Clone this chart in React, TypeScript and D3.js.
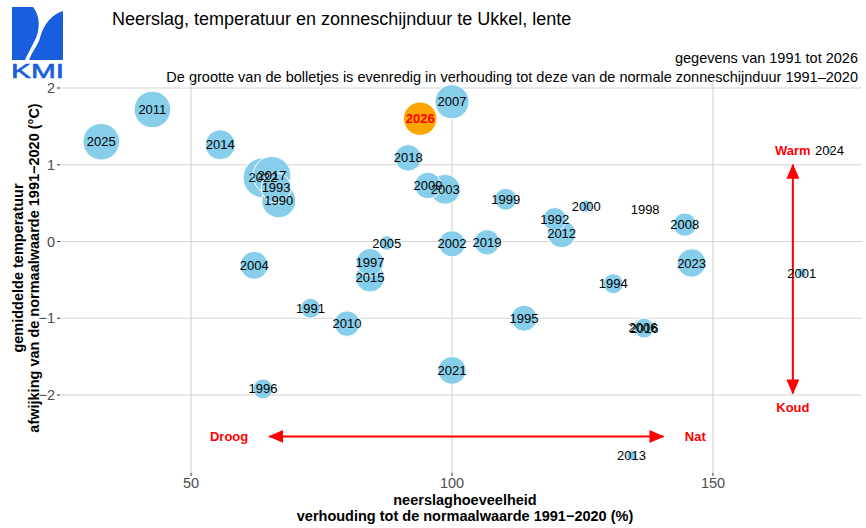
import React from "react";
import * as d3 from "d3";

const years = [1990, 1991, 1992, 1993, 1994, 1995, 1996, 1997, 1998, 1999, 2000, 2001, 2002, 2003, 2004, 2005, 2006, 2007, 2008, 2009, 2010, 2011, 2012, 2013, 2014, 2015, 2016, 2017, 2018, 2019, 2021, 2022, 2023, 2024, 2025];
const precip = [66.8, 72.9, 119.7, 66.3, 130.9, 113.8, 63.8, 84.3, 137.0, 110.3, 125.7, 167.0, 100.0, 98.7, 62.1, 87.5, 136.6, 100.0, 144.6, 95.4, 79.9, 42.6, 121.0, 134.4, 55.6, 84.3, 136.8, 65.5, 91.6, 106.7, 100.0, 63.8, 145.9, 172.3, 32.8];
const temp = [0.53, -0.87, 0.29, 0.70, -0.55, -1.0, -1.92, -0.27, 0.42, 0.55, 0.46, -0.41, -0.03, 0.68, -0.31, -0.02, -1.12, 1.82, 0.22, 0.73, -1.07, 1.72, 0.10, -2.79, 1.26, -0.47, -1.13, 0.86, 1.09, -0.01, -1.68, 0.83, -0.28, 1.18, 1.30];
const sunshine = [113.3, 84.9, 90.4, 103.7, 84.9, 95.3, 84.9, 98.1, 70.0, 88.0, 75.3, 73.6, 96.0, 103.7, 99.3, 77.9, 84.9, 113.3, 90.4, 96.4, 94.5, 120.2, 99.3, 73.6, 103.7, 101.5, 84.9, 124.1, 96.4, 94.1, 99.3, 130.0, 100.6, 71.2, 120.2];

const currentYear = [2026];
const currentPrecip = [93.9];
const currentTemp = [1.6];
const currentSunshine = [111.8];

const xTicks = [50, 100, 150];
const yTicks = [-2, -1, 0, 1, 2];

const arrowH = { x0: 65, x1: 140.5, y: -2.54 };
const arrowV = { x: 165.3, y0: 1.0, y1: -1.98 };

const FONT = '"Liberation Sans", Arial, Helvetica, sans-serif';

export default function App() {
  const W = 866, H = 528;
  const panel = { left: 60, right: 862, top: 80, bottom: 473 };
  const x = d3.scaleLinear().domain([50, 150]).range([191, 713]);
  const y = d3.scaleLinear().domain([-2, 2]).range([395, 88]);
  const allSun = sunshine.concat(currentSunshine);
  const area = d3.scaleLinear().domain([d3.min(allSun)!, d3.max(allSun)!]).range([0.25, 400]);
  const r = (s: number) => Math.sqrt(area(s));

  const pts = years.map((yr, i) => ({ yr, px: precip[i], t: temp[i], s: sunshine[i] }));
  const drawOrder = pts.slice().sort((a, b) => b.s - a.s);
  const cur = currentYear.map((yr, i) => ({ yr, px: currentPrecip[i], t: currentTemp[i], s: currentSunshine[i] }));

  const grid = "#d4d4d4";
  const red = "#ff0000";
  const pcx = (panel.left + panel.right) / 2 + 4;

  return (
    <svg width={W} height={H} style={{ position: "absolute", left: 0, top: 0, background: "#fff" }} fontFamily={FONT}>
      <defs>
        <marker id="ah" markerUnits="userSpaceOnUse" markerWidth="16" markerHeight="14" refX="14" refY="6.5" orient="auto-start-reverse">
          <path d="M0,0 L15,6.5 L0,13 Z" fill={red} />
        </marker>
      </defs>
      <rect width={W} height={H} fill="#fff" />

      {/* logo */}
      <g fill="#1a5ee0">
        <path d="M12,7 L33,7 C40,15 41,30 34,42 C30,50 27,55 25,60 L12,60 Z" />
        <path d="M63,11 L63,60 L29,60 C33,50 38,45 40,38 C43,25 52,14 63,11 Z" />
        <text x={11} y={78} fontSize={21} textLength={53} lengthAdjust="spacingAndGlyphs" stroke="#1a5ee0" strokeWidth={0.6} fontFamily={FONT}>KMI</text>
      </g>

      {/* titles */}
      <text x={112} y={25} fontSize={18} fill="#000">Neerslag, temperatuur en zonneschijnduur te Ukkel, lente</text>
      <text x={858} y={63} fontSize={14.5} textAnchor="end" fill="#000">gegevens van 1991 tot 2026</text>
      <text x={858} y={82} fontSize={14.5} textAnchor="end" fill="#000">De grootte van de bolletjes is evenredig in verhouding tot deze van de normale zonneschijnduur 1991–2020</text>

      {/* grid */}
      {xTicks.map((t) => (
        <line key={"gx" + t} x1={x(t)} x2={x(t)} y1={panel.top} y2={panel.bottom} stroke={grid} strokeWidth={1.2} />
      ))}
      {yTicks.map((t) => (
        <line key={"gy" + t} x1={panel.left} x2={panel.right} y1={y(t)} y2={y(t)} stroke={grid} strokeWidth={1.2} />
      ))}

      {/* ticks */}
      {yTicks.map((t) => (
        <g key={"ty" + t}>
          <line x1={panel.left - 3} x2={panel.left} y1={y(t)} y2={y(t)} stroke="#333" strokeWidth={1} />
          <text x={panel.left - 5} y={y(t)} dy="0.35em" fontSize={14.5} textAnchor="end" fill="#4d4d4d">{t < 0 ? "−" + Math.abs(t) : String(t)}</text>
        </g>
      ))}
      {xTicks.map((t) => (
        <g key={"tx" + t}>
          <line x1={x(t)} x2={x(t)} y1={panel.bottom} y2={panel.bottom + 3} stroke="#333" strokeWidth={1} />
          <text x={x(t)} y={488} fontSize={14.5} textAnchor="middle" fill="#4d4d4d">{t}</text>
        </g>
      ))}

      {/* axis titles */}
      <text x={pcx} y={505} fontSize={14.5} fontWeight="bold" textAnchor="middle">neerslaghoeveelheid</text>
      <text x={pcx} y={521} fontSize={14.5} fontWeight="bold" textAnchor="middle">verhouding tot de normaalwaarde 1991−2020 (%)</text>
      <text transform="translate(23,268) rotate(-90)" fontSize={14.5} fontWeight="bold" textAnchor="middle">gemiddelde temperatuur</text>
      <text transform="translate(39,268) rotate(-90)" fontSize={14.5} fontWeight="bold" textAnchor="middle">afwijking van de normaalwaarde 1991−2020 (°C)</text>

      {/* bubbles */}
      {drawOrder.map((d) => (
        <circle key={"c" + d.yr} cx={x(d.px)} cy={y(d.t)} r={r(d.s)} fill="#87ceeb" stroke="#fff" strokeWidth={1} />
      ))}
      {cur.map((d) => (
        <circle key={"cc" + d.yr} cx={x(d.px)} cy={y(d.t)} r={r(d.s)} fill="#ffa500" stroke="#fff" strokeWidth={1} />
      ))}

      {/* arrows */}
      <line x1={x(arrowH.x0)} x2={x(arrowH.x1)} y1={y(arrowH.y)} y2={y(arrowH.y)} stroke={red} strokeWidth={2} markerStart="url(#ah)" markerEnd="url(#ah)" />
      <line x1={x(arrowV.x)} x2={x(arrowV.x)} y1={y(arrowV.y0)} y2={y(arrowV.y1)} stroke={red} strokeWidth={2} markerStart="url(#ah)" markerEnd="url(#ah)" />
      <text x={x(57.3)} y={y(arrowH.y)} dy="0.35em" fontSize={13} fontWeight="bold" fill={red} textAnchor="middle">Droog</text>
      <text x={x(146.6)} y={y(arrowH.y)} dy="0.35em" fontSize={13} fontWeight="bold" fill={red} textAnchor="middle">Nat</text>
      <text x={x(arrowV.x)} y={y(1.19)} dy="0.35em" fontSize={13} fontWeight="bold" fill={red} textAnchor="middle">Warm</text>
      <text x={x(arrowV.x)} y={y(-2.16)} dy="0.35em" fontSize={13} fontWeight="bold" fill={red} textAnchor="middle">Koud</text>

      {/* labels */}
      {pts.map((d) => (
        <text key={"l" + d.yr} x={x(d.px)} y={y(d.t)} dy="0.35em" fontSize={13} textAnchor="middle" fill="#000">{d.yr}</text>
      ))}
      {cur.map((d) => (
        <text key={"lc" + d.yr} x={x(d.px)} y={y(d.t)} dy="0.35em" fontSize={13} fontWeight="bold" textAnchor="middle" fill={red}>{d.yr}</text>
      ))}
    </svg>
  );
}
